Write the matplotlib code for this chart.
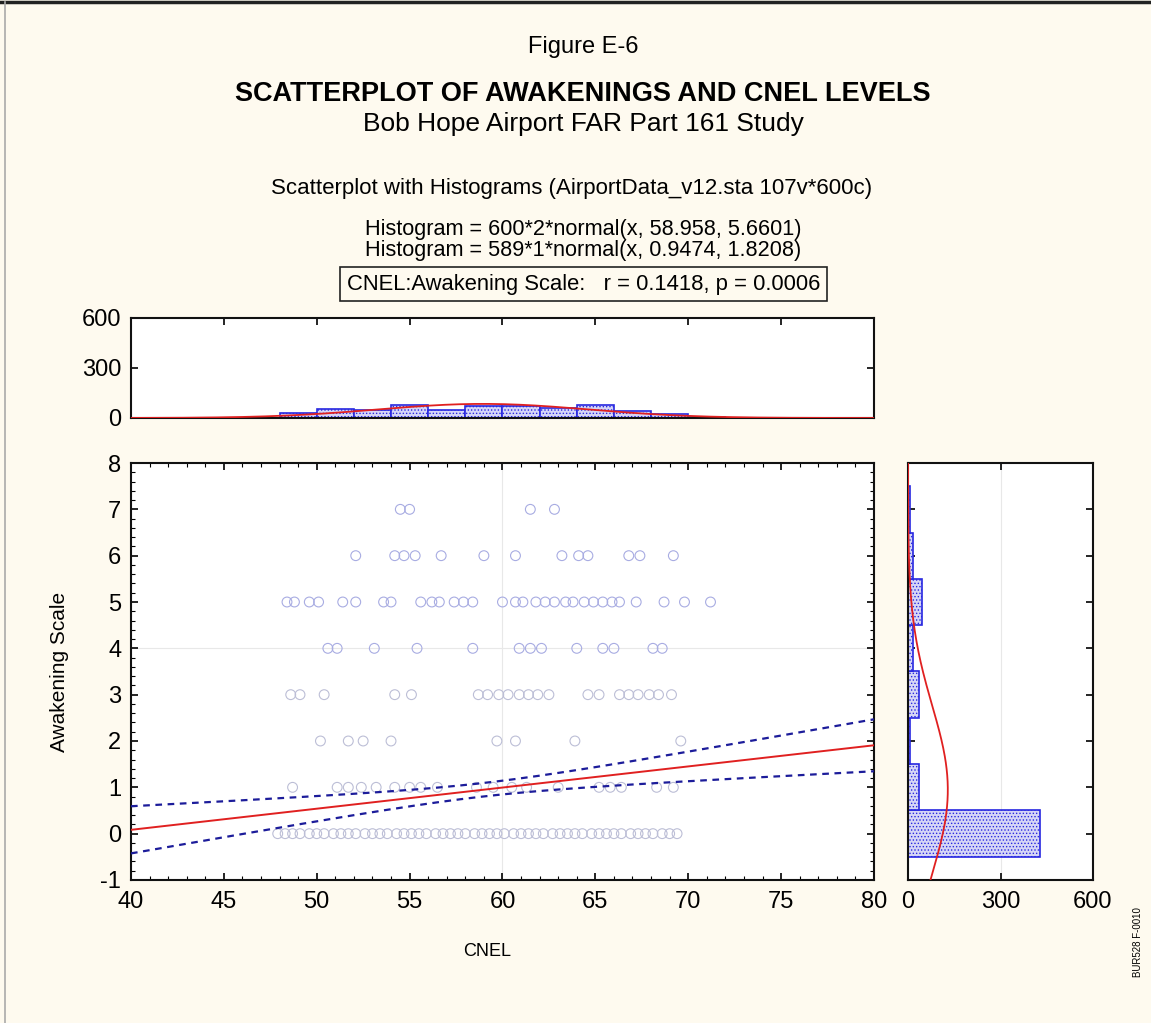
import numpy as np
import matplotlib
matplotlib.use("Agg")
import matplotlib.pyplot as plt
from matplotlib.lines import Line2D
from matplotlib.ticker import MultipleLocator

plt.rcParams['font.family'] = ['Liberation Sans', 'DejaVu Sans']
plt.rcParams['hatch.linewidth'] = 0.6
plt.rcParams['axes.unicode_minus'] = False

# ---- data ----
# awakening level -> CNEL values of the respondents at that level
cnel_by_level = {
    7: [54.5, 55.0, 61.5, 62.8],
    6: [52.1, 54.2, 54.7, 55.3, 56.7, 59.0, 60.7, 63.2, 64.1, 64.6, 66.8, 67.4, 69.2],
    5: [48.4, 48.8, 49.6, 50.1, 51.4, 52.1, 53.6, 54.0, 55.6, 56.2, 56.6, 57.4, 57.9,
        58.4, 60.0, 60.7, 61.1, 61.8, 62.3, 62.8, 63.4, 63.8, 64.4, 64.9, 65.4, 65.9,
        66.3, 67.2, 68.7, 69.8, 71.2],
    4: [50.6, 51.1, 53.1, 55.4, 58.4, 60.9, 61.5, 62.1, 64.0, 65.4, 66.0, 68.1, 68.6],
    3: [48.6, 49.1, 50.4, 54.2, 55.1, 58.7, 59.2, 59.8, 60.3, 60.9, 61.4, 61.9, 62.5,
        64.6, 65.2, 66.3, 66.8, 67.3, 67.9, 68.4, 69.1],
    2: [50.2, 51.7, 52.5, 54.0, 59.7, 60.7, 63.9, 69.6],
    1: [48.7, 51.1, 51.7, 52.4, 53.2, 54.2, 55.0, 55.6, 56.5, 58.6, 59.5, 60.5, 61.3,
        63.0, 65.2, 65.8, 66.4, 68.3, 69.2],
    0: [47.9, 48.3, 48.7, 49.1, 49.6, 50.0, 50.4, 50.9, 51.3, 51.7, 52.1, 52.6, 53.0,
        53.4, 53.8, 54.3, 54.7, 55.1, 55.5, 55.9, 56.4, 56.8, 57.2, 57.6, 58.0, 58.5,
        58.9, 59.3, 59.7, 60.1, 60.6, 61.0, 61.4, 61.8, 62.2, 62.7, 63.1, 63.5, 63.9,
        64.3, 64.8, 65.2, 65.6, 66.0, 66.4, 66.9, 67.3, 67.7, 68.1, 68.6, 69.0, 69.4],
}

# CNEL histogram (bin width 2)
cnel_bin_left = [48, 50, 52, 54, 56, 58, 60, 62, 64, 66, 68, 70]
cnel_counts = [30, 55, 45, 75, 45, 70, 70, 62, 75, 42, 25, 6]

# Awakening histogram (bin width 1, centred on levels)
awake_levels = [0, 1, 2, 3, 4, 5, 6, 7]
awake_counts = [428, 37, 8, 34, 17, 44, 17, 6]

# fitted statistics printed on the chart
n_cnel, cnel_mean, cnel_sd = 600, 58.958, 5.6601
n_awake, awake_mean, awake_sd = 589, 0.9474, 1.8208
r_val = 0.1418

bg = '#fefaef'
pt_upper = '#a8ace2'
pt_lower = '#bcbed6'
bar_face = '#d6d6f6'
bar_edge = '#2828e0'
band_color = '#1c1c9a'

fig = plt.figure(figsize=(11.51, 10.23), dpi=100, facecolor=bg)

ax = fig.add_axes([0.1138, 0.1398, 0.6455, 0.4076])
ax_top = fig.add_axes([0.1138, 0.5914, 0.6455, 0.0978])
ax_right = fig.add_axes([0.7889, 0.1398, 0.1607, 0.4076])


def normal_pdf(x, m, s):
    return np.exp(-0.5 * ((x - m) / s) ** 2) / (s * np.sqrt(2 * np.pi))


# ---- scatter ----
for level, xs in cnel_by_level.items():
    c = pt_upper if level >= 4 else pt_lower
    ax.scatter(xs, [level] * len(xs), s=50, facecolors='none',
               edgecolors=c, linewidths=0.8, zorder=2)

slope = r_val * awake_sd / cnel_sd
xx = np.linspace(40, 80, 200)
fit = awake_mean + slope * (xx - cnel_mean)
resid_sd = awake_sd * np.sqrt(1 - r_val ** 2)
sxx = (n_awake - 1) * cnel_sd ** 2
half = 1.96 * resid_sd * np.sqrt(1 / n_awake + (xx - cnel_mean) ** 2 / sxx)
ax.plot(xx, fit, color='#e02020', lw=1.4, zorder=3)
ax.plot(xx, fit + half, color=band_color, lw=1.6, ls=(0, (3, 2.5)), zorder=3)
ax.plot(xx, fit - half, color=band_color, lw=1.6, ls=(0, (3, 2.5)), zorder=3)

ax.axvline(60, color='#e8e8e8', lw=0.8, zorder=1)
ax.axhline(4, color='#e8e8e8', lw=0.8, zorder=1)
ax.set_xlim(40, 80)
ax.set_ylim(-1, 8)
ax.xaxis.set_major_locator(MultipleLocator(5))
ax.xaxis.set_minor_locator(MultipleLocator(1))
ax.yaxis.set_major_locator(MultipleLocator(1))
ax.yaxis.set_minor_locator(MultipleLocator(0.2))
ax.set_xlabel('CNEL', fontsize=13)
ax.xaxis.set_label_coords(0.479, -0.151)
ax.set_ylabel('Awakening Scale', fontsize=15)
ax.yaxis.set_label_coords(-0.083, 0.5)

# ---- top histogram ----
ax_top.bar(cnel_bin_left, cnel_counts, width=2, align='edge', color=bar_face,
           edgecolor=bar_edge, hatch='.....', linewidth=1.2, zorder=2)
ax_top.plot(xx, n_cnel * 2 * normal_pdf(xx, cnel_mean, cnel_sd), color='#e02020', lw=1.3, zorder=3)
ax_top.set_xlim(40, 80)
ax_top.set_ylim(0, 600)
ax_top.set_yticks([0, 300, 600])
ax_top.xaxis.set_major_locator(MultipleLocator(5))

# ---- right histogram ----
ax_right.barh(awake_levels, awake_counts, height=1, color=bar_face,
              edgecolor=bar_edge, hatch='.....', linewidth=1.2, zorder=2)
yy = np.linspace(-1, 8, 200)
ax_right.plot(n_awake * normal_pdf(yy, awake_mean, awake_sd), yy, color='#e02020', lw=1.3, zorder=3)
ax_right.axvline(300, color='#e8e8e8', lw=0.8, zorder=1)
ax_right.set_xlim(0, 600)
ax_right.set_ylim(-1, 8)
ax_right.set_xticks([0, 300, 600])
ax_right.yaxis.set_major_locator(MultipleLocator(1))

for a in (ax, ax_top, ax_right):
    a.set_facecolor('white')
    for sp in a.spines.values():
        sp.set_linewidth(1.5)
        sp.set_color('#111111')
    a.tick_params(which='both', direction='in', top=True, right=True, labelsize=17)
    a.tick_params(which='major', length=5, width=1.2)
    a.tick_params(which='minor', length=3, width=0.8)
    a.tick_params(axis='x', pad=8)
    a.tick_params(axis='y', pad=7)
ax_top.tick_params(axis='x', bottom=False, labelbottom=False)
ax_right.tick_params(axis='y', labelleft=False)

# ---- titles and annotations ----
fig.text(0.5065, 0.954, 'Figure E-6', ha='center', va='center', fontsize=17)
fig.text(0.5065, 0.908, 'SCATTERPLOT OF AWAKENINGS AND CNEL LEVELS', ha='center',
         va='center', fontsize=19.5, fontweight='bold')
fig.text(0.5065, 0.879, 'Bob Hope Airport FAR Part 161 Study', ha='center', va='center', fontsize=19)
fig.text(0.497, 0.816, 'Scatterplot with Histograms (AirportData_v12.sta 107v*600c)',
         ha='center', va='center', fontsize=16)
fig.text(0.507, 0.776, f'Histogram = {n_cnel}*2*normal(x, {cnel_mean}, {cnel_sd})',
         ha='center', va='center', fontsize=15.6)
fig.text(0.507, 0.755, f'Histogram = {n_awake}*1*normal(x, {awake_mean}, {awake_sd})',
         ha='center', va='center', fontsize=15.6)
fig.text(0.507, 0.722, f'CNEL:Awakening Scale:   r = {r_val}, p = 0.0006',
         ha='center', va='center', fontsize=15.8,
         bbox=dict(boxstyle='square,pad=0.3', facecolor=bg, edgecolor='#222222', lw=1.2))
fig.text(0.9885, 0.079, 'BUR528 F-0010', rotation=90, ha='center', va='center', fontsize=7)

fig.add_artist(Line2D([0, 1], [0.998, 0.998], transform=fig.transFigure, color='#222222', lw=2.5))
fig.add_artist(Line2D([0.004, 0.004], [0, 0.998], transform=fig.transFigure, color='#aaaaaa', lw=1.2))

fig.savefig('out.png', dpi=100, facecolor=bg)
